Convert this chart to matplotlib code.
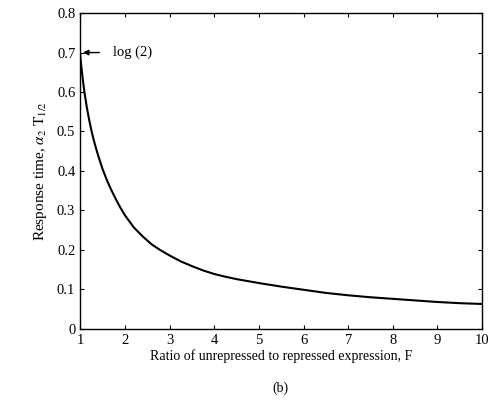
import matplotlib
matplotlib.use('Agg')
import matplotlib.pyplot as plt

plt.rcParams['font.family'] = 'Liberation Serif'
plt.rcParams['mathtext.fontset'] = 'stix'

# values
ratio_F = [1.0, 1.025, 1.05, 1.075, 1.1, 1.15, 1.2, 1.25, 1.3, 1.35, 1.4,
           1.5, 1.6, 1.7, 1.8, 1.9, 2.0, 2.2, 2.4, 2.6, 2.8, 3.0, 3.25, 3.5,
           3.75, 4.0, 4.25, 4.5, 4.75, 5.0, 5.5, 6.0, 6.5, 7.0, 7.5, 8.0,
           8.5, 9.0, 9.5, 10.0]
response = [0.693, 0.665, 0.64, 0.617, 0.596, 0.56, 0.53, 0.503, 0.48, 0.459,
            0.44, 0.405, 0.376, 0.351, 0.328, 0.307, 0.288, 0.257, 0.234,
            0.214, 0.199, 0.186, 0.171, 0.159, 0.148, 0.139, 0.132, 0.126,
            0.121, 0.116, 0.107, 0.099, 0.091, 0.085, 0.080, 0.076, 0.072,
            0.068, 0.065, 0.063]
xticks = [1, 2, 3, 4, 5, 6, 7, 8, 9, 10]
yticks = [0, 0.1, 0.2, 0.3, 0.4, 0.5, 0.6, 0.7, 0.8]
ytick_labels = ['0', '0.1', '0.2', '0.3', '0.4', '0.5', '0.6', '0.7', '0.8']

fig = plt.figure(figsize=(4.92, 4.09), dpi=100)
ax = fig.add_axes([0.163, 0.196, 0.817, 0.772])

ax.plot(ratio_F, response, color='black', lw=1.5)

ax.set_xlim(1, 10)
ax.set_ylim(0, 0.8)
ax.set_xticks(xticks)
ax.set_yticks(yticks)
ax.set_yticklabels(ytick_labels)
ax.tick_params(direction='in', length=3, width=0.8, top=True, right=True,
               labelsize=10.5, colors='black')
ax.tick_params(axis='x', pad=4)
for s in ax.spines.values():
    s.set_linewidth(1.0)

ax.annotate('log (2)', xy=(1.06, 0.7), xytext=(1.74, 0.7),
            fontsize=10.5, va='center', ha='left',
            arrowprops=dict(arrowstyle='-|>', color='black', lw=1.0,
                            shrinkA=8, shrinkB=0, mutation_scale=8))

ax.set_xlabel('Ratio of unrepressed to repressed expression, F', fontsize=10, labelpad=1)
ax.set_ylabel(r'Response time, $\alpha_2\ \mathrm{T}_{1/2}$', fontsize=11, labelpad=6)
fig.text(0.57, 0.051, '(b)', fontsize=10, ha='center', va='center')

fig.savefig('out.png', dpi=100)
